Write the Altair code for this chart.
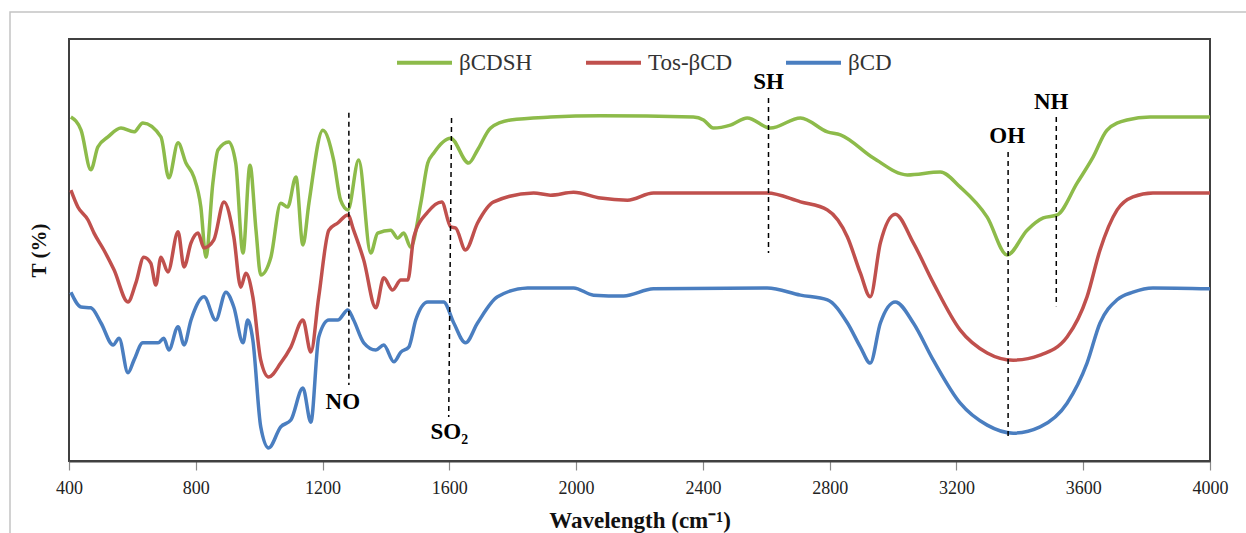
import altair as alt
import pandas as pd

# ---- data (wavenumber cm-1, transmittance in arbitrary % units) ----
series_names = ["βCDSH", "Tos-βCD", "βCD"]
series_colors = ["#8DBB4A", "#C0504D", "#4A7EC0"]

green_wn = [406, 438, 469, 491, 523, 564, 605, 633, 690, 715, 744, 769, 794, 816, 832, 854, 870, 904, 926, 949,
            971, 990, 1005, 1037, 1068, 1090, 1116, 1138, 1157, 1201, 1235, 1257, 1280, 1314, 1352, 1374, 1415,
            1437, 1456, 1478, 1510, 1532, 1551, 1604, 1661, 1689, 1730, 1793, 1919, 2077, 2370, 2402, 2433, 2487,
            2540, 2613, 2708, 2793, 2834, 2938, 3045, 3149, 3212, 3297, 3360, 3423, 3474, 3518, 3581, 3631, 3675,
            3738, 3811, 4000]
green_t = [81.5, 78.4, 69.0, 74.4, 76.8, 78.9, 78.0, 80.1, 76.8, 67.1, 75.4, 70.6, 67.3, 60.2, 48.3, 65.9, 73.7,
           75.6, 70.6, 49.3, 70.1, 54.7, 44.1, 48.3, 61.1, 60.2, 67.3, 51.2, 61.1, 78.4, 71.3, 61.8, 59.5, 71.3,
           49.3, 54.0, 54.7, 52.8, 54.0, 50.7, 61.1, 70.6, 73.0, 76.5, 70.6, 73.7, 78.9, 80.8, 81.5, 81.8, 81.5,
           80.8, 78.9, 79.6, 81.3, 78.9, 81.3, 78.0, 77.3, 71.8, 67.8, 68.5, 64.9, 57.8, 48.8, 54.7, 57.6, 58.3,
           65.9, 72.0, 78.4, 80.8, 81.5, 81.5]

red_wn = [406, 428, 460, 479, 510, 542, 586, 611, 636, 658, 674, 690, 712, 744, 763, 785, 807, 826, 857, 889,
          920, 942, 958, 980, 1005, 1030, 1068, 1100, 1138, 1163, 1188, 1220, 1248, 1280, 1298, 1330, 1368, 1393,
          1421, 1447, 1469, 1488, 1532, 1576, 1604, 1620, 1651, 1689, 1740, 1866, 1919, 1992, 2077, 2162, 2244,
          2603, 2708, 2793, 2856, 2897, 2928, 2960, 3007, 3064, 3127, 3212, 3297, 3379, 3464, 3549, 3612, 3653,
          3707, 3757, 3820, 4000]
red_t = [64.2, 60.2, 57.1, 54.0, 50.0, 45.3, 37.7, 42.2, 48.3, 46.9, 41.7, 48.3, 44.8, 54.3, 46.0, 51.7, 54.0,
         50.5, 52.4, 61.4, 53.1, 41.2, 44.5, 38.9, 23.9, 19.9, 23.2, 27.0, 33.4, 25.8, 38.9, 54.7, 56.4, 58.3,
         54.7, 47.6, 36.3, 43.4, 40.5, 42.9, 42.9, 53.1, 59.0, 61.4, 55.5, 55.2, 50.0, 56.4, 61.4, 63.5, 63.0,
         63.7, 62.3, 61.8, 63.5, 63.5, 61.4, 59.5, 53.1, 44.5, 38.9, 51.7, 58.5, 51.7, 42.2, 31.0, 25.6, 23.9,
         25.1, 29.4, 38.9, 50.0, 59.5, 62.6, 63.5, 63.5]

blue_wn = [406, 438, 469, 501, 539, 558, 586, 605, 633, 681, 699, 715, 744, 763, 785, 826, 863, 895, 920, 949,
           964, 980, 1005, 1030, 1068, 1100, 1138, 1163, 1188, 1220, 1248, 1280, 1298, 1330, 1368, 1393, 1425,
           1447, 1472, 1494, 1532, 1582, 1614, 1651, 1689, 1752, 1847, 1992, 2055, 2150, 2244, 2603, 2708, 2793,
           2856, 2897, 2928, 2960, 3007, 3064, 3127, 3212, 3297, 3379, 3464, 3549, 3612, 3653, 3707, 3757, 3820,
           4000]
blue_t = [40.0, 36.5, 36.3, 32.7, 27.5, 29.1, 20.9, 23.9, 28.0, 28.0, 29.1, 26.3, 31.8, 27.5, 33.4, 38.9, 33.4,
          40.0, 36.5, 28.0, 33.4, 28.7, 8.1, 3.1, 8.1, 9.7, 17.3, 9.2, 29.4, 33.4, 33.4, 35.8, 33.4, 28.0, 26.3,
          27.5, 23.5, 25.8, 27.0, 33.4, 37.7, 37.7, 32.7, 28.0, 32.7, 38.9, 41.0, 41.0, 39.3, 39.1, 40.8, 41.0,
          39.3, 38.2, 32.7, 27.0, 23.2, 32.7, 37.7, 32.7, 23.9, 13.7, 8.5, 6.6, 8.1, 13.7, 23.2, 32.7, 38.2, 40.0,
          41.0, 40.8]

x_ticks = [400, 800, 1200, 1600, 2000, 2400, 2800, 3200, 3600, 4000]

# annotation dashed lines and labels
ann_labels = ["NO", "SO₂", "SH", "OH", "NH"]
ann_wn_top = [1283, 1607, 2607, 3363, 3515]
ann_wn_bot = [1283, 1598, 2607, 3363, 3515]
ann_t_top = [82.5, 81.3, 86.0, 73.2, 81.5]
ann_t_bot = [18.0, 10.4, 49.3, 5.0, 36.7]
label_wn = [1264, 1600, 2607, 3360, 3499]
label_t = [14.0, 6.9, 89.8, 77.0, 85.1]

# ---- build tables ----
rows = []
for name, wns, ts in zip(series_names, [green_wn, red_wn, blue_wn], [green_t, red_t, blue_t]):
    for w, t in zip(wns, ts):
        rows.append({"series": name, "wn": w, "t": t})
df = pd.DataFrame(rows)

ann_df = pd.DataFrame({"wn_top": ann_wn_top, "wn_bot": ann_wn_bot, "top": ann_t_top, "bot": ann_t_bot})
lab_df = pd.DataFrame({"wn": label_wn, "t": label_t, "label": ann_labels})

FONT = "Liberation Serif"
xscale = alt.Scale(domain=[400, 4000], nice=False, zero=False)
yscale = alt.Scale(domain=[0, 100], nice=False, zero=False)

border = alt.Chart(pd.DataFrame({"a": [0]})).mark_rect(
    fillOpacity=0, stroke="#c4c4c4", strokeWidth=1.5
).encode(x=alt.value(-59), x2=alt.value(1250), y=alt.value(-27), y2=alt.value(700))

lines = alt.Chart(df).mark_line(strokeWidth=3.5, interpolate="monotone").encode(
    x=alt.X("wn:Q", scale=xscale,
            axis=alt.Axis(values=x_ticks, title="Wavelength  (cm⁻¹)", grid=False, format="d",
                          labelFlush=False, labelOverlap=False,
                          labelFont=FONT, labelFontSize=18, labelColor="#222222",
                          titleFont=FONT, titleFontSize=23, titleFontWeight="bold", titleColor="#111111",
                          tickSize=9, tickColor="#8a8a8a", tickWidth=1.2, labelPadding=9, titlePadding=12,
                          domainColor="#404040", domainWidth=2)),
    y=alt.Y("t:Q", scale=yscale,
            axis=alt.Axis(title="T (%)", labels=False, ticks=False, domain=False, grid=False,
                          titleFont=FONT, titleFontSize=21, titleFontWeight="bold", titleColor="#111111",
                          titlePadding=20)),
    color=alt.Color("series:N",
                    scale=alt.Scale(domain=series_names, range=series_colors),
                    sort=series_names,
                    legend=alt.Legend(title=None, orient="none", legendX=326, legendY=-6,
                                      direction="horizontal", columns=3, symbolType="stroke",
                                      symbolSize=3025, symbolStrokeWidth=4, labelFont=FONT,
                                      labelFontSize=23, labelColor="#333333", labelOffset=5,
                                      columnPadding=45)),
)

rules = alt.Chart(ann_df).mark_rule(strokeDash=[5, 4], color="black", strokeWidth=1.5).encode(
    x=alt.X("wn_top:Q", scale=xscale), x2="wn_bot:Q",
    y=alt.Y("top:Q", scale=yscale), y2="bot:Q",
)

labels = alt.Chart(lab_df).mark_text(
    font=FONT, fontWeight="bold", fontSize=23, color="black", align="center", baseline="middle"
).encode(x=alt.X("wn:Q", scale=xscale), y=alt.Y("t:Q", scale=yscale), text="label:N")

chart = alt.layer(border, lines, rules, labels).properties(
    width=1141, height=422,
    autosize=alt.AutoSizeParams(type="none"),
    padding={"left": 69, "top": 39, "right": 36, "bottom": 72},
    background="white",
).configure_view(stroke="#404040", strokeWidth=2
).configure_axis(labelFont=FONT, titleFont=FONT
).configure_legend(labelFont=FONT)

chart.save("out.html", embed_options={"renderer": "svg", "actions": False})
